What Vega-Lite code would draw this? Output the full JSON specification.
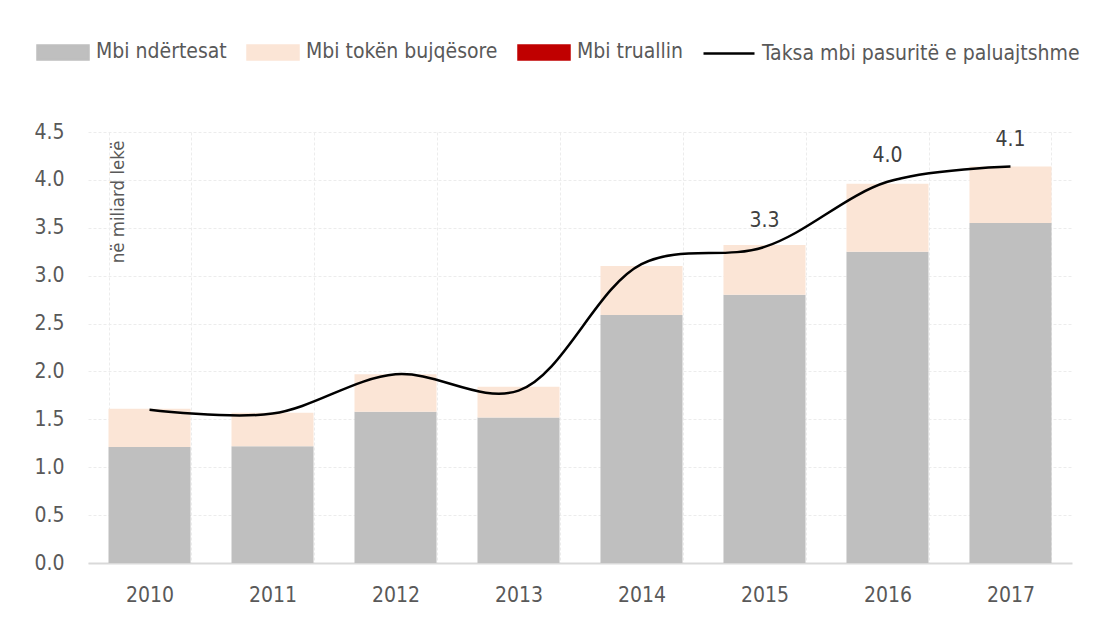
{
  "$schema": "https://vega.github.io/schema/vega-lite/v6.json",
  "width": 984,
  "height": 431,
  "autosize": {"type": "none"},
  "padding": {"left": 88, "top": 132, "right": 21, "bottom": 62},
  "background": "white",
  "config": {
    "font": "'Liberation Sans Narrow', 'Arial Narrow', 'DejaVu Sans Condensed', 'Roboto Condensed', Roboto, sans-serif",
    "view": {"stroke": null}
  },
  "datasets": {
    "bars": [
      {"year": 2010, "series": "Mbi ndërtesat", "value": 1.21},
      {"year": 2010, "series": "Mbi tokën bujqësore", "value": 0.40},
      {"year": 2010, "series": "Mbi truallin", "value": 0},
      {"year": 2011, "series": "Mbi ndërtesat", "value": 1.22},
      {"year": 2011, "series": "Mbi tokën bujqësore", "value": 0.35},
      {"year": 2011, "series": "Mbi truallin", "value": 0},
      {"year": 2012, "series": "Mbi ndërtesat", "value": 1.58},
      {"year": 2012, "series": "Mbi tokën bujqësore", "value": 0.39},
      {"year": 2012, "series": "Mbi truallin", "value": 0},
      {"year": 2013, "series": "Mbi ndërtesat", "value": 1.52},
      {"year": 2013, "series": "Mbi tokën bujqësore", "value": 0.32},
      {"year": 2013, "series": "Mbi truallin", "value": 0},
      {"year": 2014, "series": "Mbi ndërtesat", "value": 2.59},
      {"year": 2014, "series": "Mbi tokën bujqësore", "value": 0.51},
      {"year": 2014, "series": "Mbi truallin", "value": 0},
      {"year": 2015, "series": "Mbi ndërtesat", "value": 2.80},
      {"year": 2015, "series": "Mbi tokën bujqësore", "value": 0.52},
      {"year": 2015, "series": "Mbi truallin", "value": 0},
      {"year": 2016, "series": "Mbi ndërtesat", "value": 3.25},
      {"year": 2016, "series": "Mbi tokën bujqësore", "value": 0.71},
      {"year": 2016, "series": "Mbi truallin", "value": 0},
      {"year": 2017, "series": "Mbi ndërtesat", "value": 3.55},
      {"year": 2017, "series": "Mbi tokën bujqësore", "value": 0.59},
      {"year": 2017, "series": "Mbi truallin", "value": 0}
    ],
    "total": [
      {"year": 2010, "value": 1.60},
      {"year": 2011, "value": 1.56},
      {"year": 2012, "value": 1.97},
      {"year": 2013, "value": 1.80},
      {"year": 2014, "value": 3.12},
      {"year": 2015, "value": 3.30},
      {"year": 2016, "value": 3.98},
      {"year": 2017, "value": 4.14}
    ]
  },
  "layer": [
    {
      "data": {"name": "bars"},
      "mark": {"type": "bar"},
      "encoding": {
        "x": {
          "field": "year",
          "type": "ordinal",
          "scale": {"paddingInner": 0.333, "paddingOuter": 0.1667},
          "axis": {
            "title": null,
            "labelAngle": 0,
            "labelFontSize": 21,
            "labelColor": "#595959",
            "labelPadding": 21,
            "ticks": false,
            "domainColor": "#d9d9d9",
            "domainWidth": 2,
            "grid": true,
            "tickBand": "extent",
            "gridColor": "#ececec",
            "gridDash": [3, 2]
          }
        },
        "y": {
          "field": "value",
          "type": "quantitative",
          "stack": "zero",
          "scale": {"domain": [0, 4.5], "nice": false},
          "axis": {
            "values": [0, 0.5, 1, 1.5, 2, 2.5, 3, 3.5, 4, 4.5],
            "format": ".1f",
            "labelFontSize": 21,
            "labelColor": "#595959",
            "labelPadding": 24,
            "ticks": false,
            "domain": false,
            "grid": true,
            "gridColor": "#ececec",
            "gridDash": [3, 2],
            "title": "në miliard lekë",
            "titleAngle": 270,
            "titleX": 29,
            "titleY": 8,
            "titleAlign": "right",
            "titleBaseline": "middle",
            "titleFontSize": 18.5,
            "titleFontWeight": "normal",
            "titleColor": "#595959"
          }
        },
        "order": {"field": "series", "type": "nominal", "sort": "ascending"},
        "color": {
          "field": "series",
          "type": "nominal",
          "scale": {
            "domain": ["Mbi ndërtesat", "Mbi tokën bujqësore", "Mbi truallin", "Taksa mbi pasuritë e paluajtshme"],
            "range": ["#bfbfbf", "#fbe5d6", "#c00000", "#000000"]
          },
          "legend": {
            "orient": "none",
            "legendX": -52,
            "legendY": -107,
            "direction": "horizontal",
            "title": null,
            "labelFontSize": 21,
            "labelColor": "#595959",
            "labelOffset": 6,
            "labelLimit": 0,
            "columnPadding": 15,
            "symbolSize": 2601,
            "symbolType": "M-1,-0.275H1V0.275H-1Z",
            "encode": {
              "symbols": {
                "update": {
                  "shape": {"signal": "datum.value === 'Taksa mbi pasuritë e paluajtshme' ? 'M-1,0H1' : 'M-1,-0.275H1V0.275H-1Z'"},
                  "fill": {"signal": "datum.value === 'Taksa mbi pasuritë e paluajtshme' ? 'transparent' : scale('color', datum.value)"},
                  "stroke": {"signal": "datum.value === 'Taksa mbi pasuritë e paluajtshme' ? '#000000' : 'transparent'"},
                  "strokeWidth": {"value": 2.5},
                  "opacity": {"value": 1}
                }
              }
            }
          }
        }
      }
    },
    {
      "data": {"name": "total"},
      "mark": {"type": "line", "interpolate": "catmull-rom", "strokeWidth": 2.5},
      "encoding": {
        "x": {"field": "year", "type": "ordinal"},
        "y": {"field": "value", "type": "quantitative"},
        "color": {"datum": "Taksa mbi pasuritë e paluajtshme", "type": "nominal"}
      }
    },
    {
      "data": {"name": "total"},
      "transform": [{"filter": "datum.year >= 2015"}],
      "mark": {"type": "text", "dy": -26, "fontSize": 21, "color": "#404040"},
      "encoding": {
        "x": {"field": "year", "type": "ordinal"},
        "y": {"field": "value", "type": "quantitative"},
        "text": {"field": "value", "type": "quantitative", "format": ".1f"}
      }
    }
  ]
}
